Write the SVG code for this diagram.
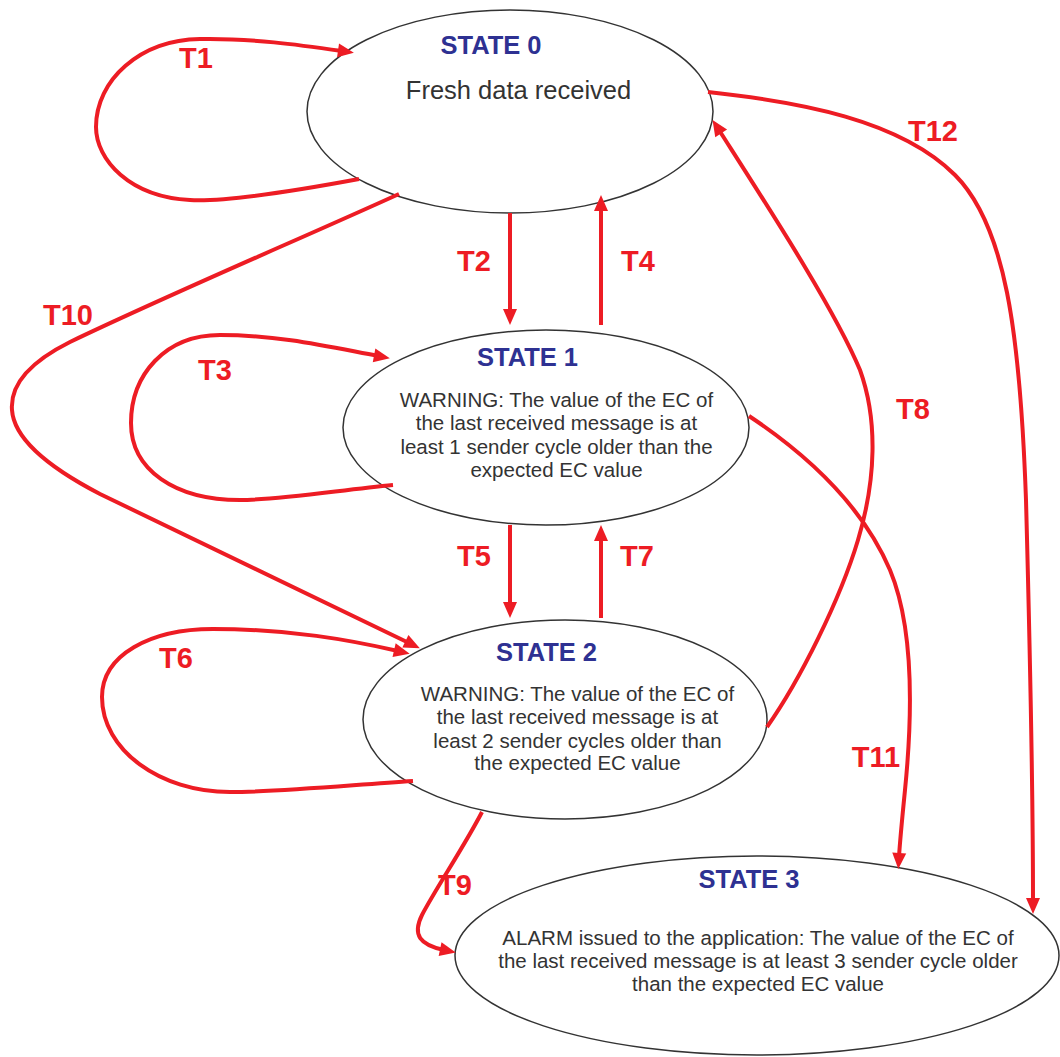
<svg xmlns="http://www.w3.org/2000/svg" width="1060" height="1057" viewBox="0 0 1060 1057">
<style>
.st{fill:#fff;stroke:#333;stroke-width:1.5}
.ttl{font-family:"Liberation Sans",Arial,sans-serif;font-weight:bold;font-size:25.5px;fill:#2e3192;text-anchor:middle}
.txt{font-family:"Liberation Sans",Arial,sans-serif;font-size:20.5px;fill:#333;text-anchor:middle}
.big{font-size:25.5px}
.lbl{font-family:"Liberation Sans",Arial,sans-serif;font-weight:bold;font-size:29px;fill:#ed1c24;text-anchor:middle}
.c{fill:none;stroke:#ed1c24;stroke-width:4;marker-end:url(#ah)}
</style>
<defs>
<marker id="ah" markerUnits="userSpaceOnUse" markerWidth="16" markerHeight="14" refX="4" refY="7" orient="auto" overflow="visible">
<path d="M0,0 L16,7 L0,14 z" fill="#ed1c24"/>
</marker>
</defs>
<rect width="1060" height="1057" fill="#fff"/>
<g id="state0">
<ellipse class="st" cx="510" cy="111.5" rx="203" ry="101.5"/>
<text class="ttl" x="491" y="54">STATE 0</text>
<text class="txt big" x="518.5" y="99">Fresh data received</text>
</g>
<g id="state1">
<ellipse class="st" cx="546" cy="427.5" rx="203" ry="97.5"/>
<text class="ttl" x="527.5" y="366">STATE 1</text>
<text class="txt" x="556.5" y="407">WARNING: The value of the EC of</text>
<text class="txt" x="556.5" y="430">the last received message is at</text>
<text class="txt" x="556.5" y="453.5">least 1 sender cycle older than the</text>
<text class="txt" x="556.5" y="477">expected EC value</text>
</g>
<g id="state2">
<ellipse class="st" cx="565" cy="719.5" rx="202" ry="99.5"/>
<text class="ttl" x="546.5" y="661">STATE 2</text>
<text class="txt" x="577.5" y="701">WARNING: The value of the EC of</text>
<text class="txt" x="577.5" y="724">the last received message is at</text>
<text class="txt" x="577.5" y="748">least 2 sender cycles older than</text>
<text class="txt" x="577.5" y="770">the expected EC value</text>
</g>
<g id="state3">
<ellipse class="st" cx="757" cy="955.5" rx="302" ry="99.5"/>
<text class="ttl" x="749" y="888">STATE 3</text>
<text class="txt" x="758" y="945">ALARM issued to the application: The value of the EC of</text>
<text class="txt" x="758" y="968">the last received message is at least 3 sender cycle older</text>
<text class="txt" x="758" y="991">than the expected EC value</text>
</g>
<g id="labels">
<text class="lbl" x="196" y="68">T1</text>
<text class="lbl" x="474" y="271">T2</text>
<text class="lbl" x="215" y="380">T3</text>
<text class="lbl" x="638" y="271">T4</text>
<text class="lbl" x="474" y="566">T5</text>
<text class="lbl" x="176" y="668">T6</text>
<text class="lbl" x="637" y="566">T7</text>
<text class="lbl" x="913" y="419">T8</text>
<text class="lbl" x="455" y="895">T9</text>
<text class="lbl" x="68" y="325">T10</text>
<text class="lbl" x="876" y="767">T11</text>
<text class="lbl" x="933" y="141">T12</text>
</g>
<g id="connectors">
<path id="T1" class="c" d="M359,179 C300,190 230,202 190,200 C130,197 96,160 96,127 C96,80 140,40 200,39 C250,38 300,45 342,51"/>
<path id="T2" class="c" d="M510,213 L510,313"/>
<path id="T3" class="c" d="M393,485 C340,490 280,500 240,500 C175,500 131,470 131,423 C131,375 165,335 220,335 C280,335 330,347 378,356"/>
<path id="T4" class="c" d="M601,325 L601,207"/>
<path id="T5" class="c" d="M510,525 L510,606"/>
<path id="T6" class="c" d="M413,781 C350,785 280,792 230,792 C160,792 102,750 102,697 C102,655 150,629 213,629 C290,629 350,640 398,651"/>
<path id="T7" class="c" d="M601,618 L601,537"/>
<path id="T8" class="c" d="M767,727 C800,680 840,600 858,540 C876,480 878,420 860,370 C835,310 770,210 719,130"/>
<path id="T9" class="c" d="M482,812 C465,845 435,890 422,915 C412,935 420,945 444,950"/>
<path id="T10" class="c" d="M399,194 C300,239 170,294 70,342 C30,362 10,385 12,410 C14,440 50,468 100,494 L409,643"/>
<path id="T11" class="c" d="M749,416 C800,450 860,500 890,570 C915,630 912,720 905,790 C902,820 900,840 899,857"/>
<path id="T12" class="c" d="M708,92 C800,102 900,120 955,175 C1005,225 1020,330 1026,500 C1030,650 1033,800 1033,902"/>
</g>
</svg>
